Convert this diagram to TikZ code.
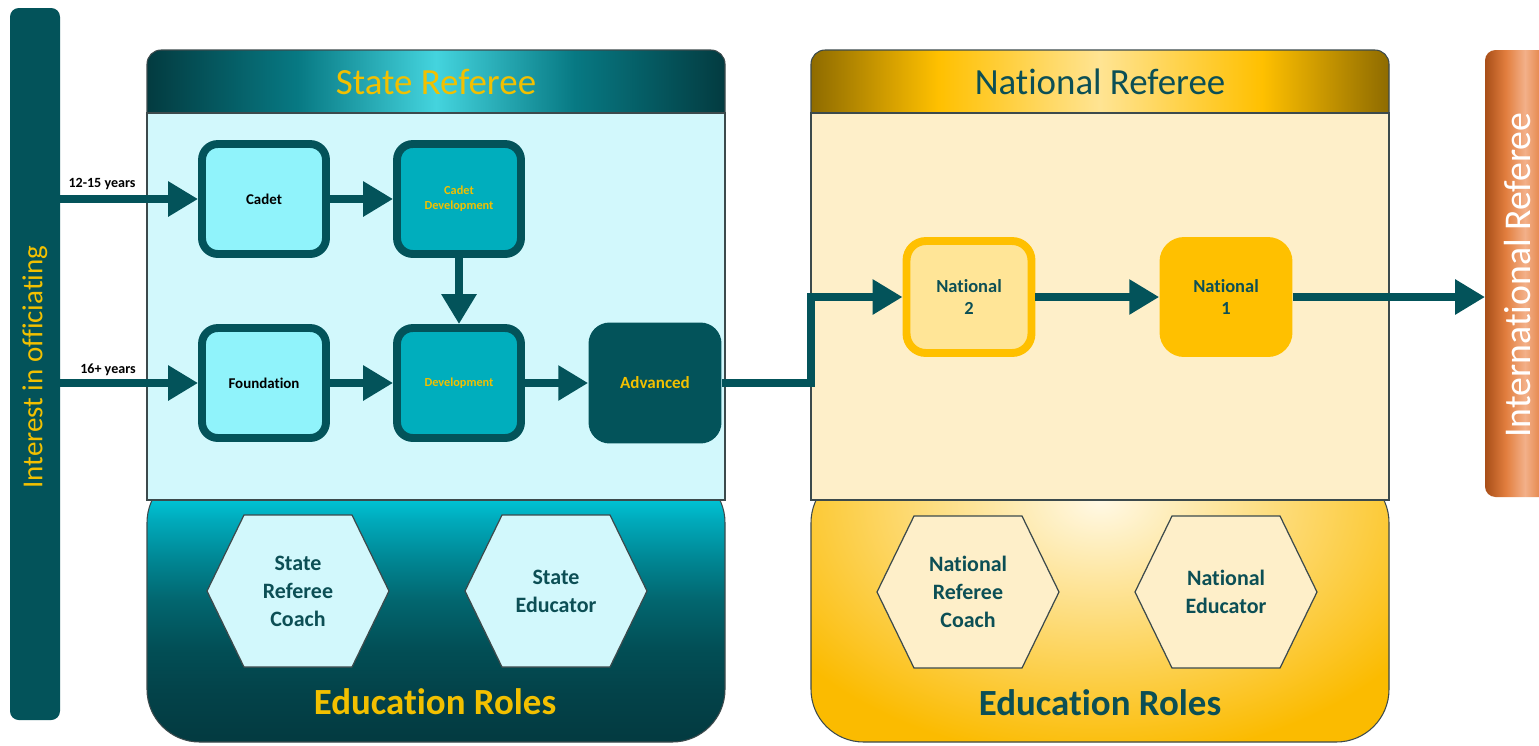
\documentclass[tikz,border=0pt]{standalone}
\usepackage{fontspec}
\setmainfont{Carlito}[Ligatures={NoCommon,NoRare},Contextuals=NoAlternate]
\usetikzlibrary{arrows.meta,calc}
\definecolor{teal1}{HTML}{03535A}
\definecolor{goldtxt}{HTML}{F2C000}
\definecolor{cyanbox}{HTML}{90F3FB}
\definecolor{tealmid}{HTML}{00AEBD}
\definecolor{statebody}{HTML}{D2F8FC}
\definecolor{natbody}{HTML}{FEEFC9}
\definecolor{natgold}{HTML}{FFC000}
\definecolor{nattwo}{HTML}{FFE597}
\definecolor{textteal}{HTML}{0C4F55}
\definecolor{outl}{HTML}{3C4A4C}
\definecolor{shA}{HTML}{033B40}
\definecolor{shB}{HTML}{077983}
\definecolor{shC}{HTML}{44D4DE}
\definecolor{ngA}{HTML}{8E6B00}
\definecolor{ngB}{HTML}{FFC000}
\definecolor{ngC}{HTML}{FFE493}
\definecolor{inA}{HTML}{A84E18}
\definecolor{inB}{HTML}{E27E3E}
\definecolor{inC}{HTML}{F3B089}
\definecolor{sbA}{HTML}{033A40}
\definecolor{sbB}{HTML}{03434A}
\definecolor{sbC}{HTML}{024E55}
\definecolor{sbD}{HTML}{02666F}
\definecolor{sbE}{HTML}{008693}
\definecolor{sbF}{HTML}{00AABB}
\definecolor{sbG}{HTML}{00C2D4}
\definecolor{sbH}{HTML}{00C8DA}
\definecolor{nbEdge}{HTML}{FBBB00}
\pgfdeclarehorizontalshading{statehead}{100bp}{color(0bp)=(shA); color(25bp)=(shA); color(38bp)=(shB); color(50bp)=(shC); color(62bp)=(shB); color(75bp)=(shA); color(100bp)=(shA)}
\pgfdeclarehorizontalshading{nathead}{100bp}{color(0bp)=(ngA); color(25bp)=(ngA); color(36bp)=(ngB); color(50bp)=(ngC); color(64bp)=(ngB); color(75bp)=(ngA); color(100bp)=(ngA)}
\pgfdeclarehorizontalshading{intlbar}{100bp}{color(0bp)=(inA); color(25bp)=(inA); color(38bp)=(inB); color(50bp)=(inC); color(62bp)=(inB); color(75bp)=(inA); color(100bp)=(inA)}
\pgfdeclareverticalshading{statebot}{100bp}{color(0bp)=(sbA); color(25bp)=(sbA); color(34.6bp)=(sbB); color(41.9bp)=(sbC); color(51.1bp)=(sbD); color(58.5bp)=(sbE); color(65.8bp)=(sbF); color(69.5bp)=(sbG); color(75bp)=(sbH); color(100bp)=(sbH)}
\tikzset{
  arr/.style={draw=teal1, line width=5pt, -{Triangle[length=17pt,width=19pt]}},
  lvlbox/.style={rounded corners=9pt, line width=4.5pt, draw=teal1, minimum width=2.48cm, minimum height=2.2cm, align=center, inner sep=0pt},
  lighttxt/.style={font=\bfseries\fontsize{8.5}{10}\selectfont, text=black},
  smallgold/.style={font=\bfseries\fontsize{7}{8.5}\selectfont, text=goldtxt},
  agelbl/.style={font=\bfseries\fontsize{8}{9}\selectfont, text=black},
  hexline/.style={draw=outl, line width=0.7pt},
  hextxt/.style={font=\bfseries\fontsize{12.5}{16}\selectfont, text=textteal, align=center},
  headtxt/.style={font=\fontsize{21}{24}\selectfont},
  roletxt/.style={font=\bfseries\fontsize{21}{24}\selectfont},
  natbox/.style={font=\bfseries\fontsize{10.5}{13}\selectfont, text=textteal, align=center, inner sep=0pt},
  panelline/.style={draw=outl, line width=0.6pt}
}
\newcommand\hexat[2]{%
  \draw[hexline, fill=#2] ($(#1)+(-91,0)$) -- ($(#1)+(-54,-76)$) -- ($(#1)+(54,-76)$) -- ($(#1)+(91,0)$) -- ($(#1)+(54,76)$) -- ($(#1)+(-54,76)$) -- cycle;}
\begin{document}
\begin{tikzpicture}[x=0.02cm,y=-0.02cm]
\useasboundingbox (0,0) rectangle (1539,745);
\clip (0,0) rectangle (1539,745);
\fill[white] (0,0) rectangle (1539,745);

% left bar
\fill[teal1, rounded corners=5pt] (10,8) rectangle (60,720);
\node[rotate=90, text=goldtxt, font=\fontsize{16.5}{19}\selectfont] (interest) at (35,367) {Interest in officiating};
\coordinate (s1) at (60,199);
\coordinate (s2) at (60,383);

% ---- State panel
\shade[shading=statehead, panelline, rounded corners=8pt] (147,50) rectangle (725,130);
\shade[shading=statebot, panelline, rounded corners=30pt] (147,470) rectangle (725,742);
\fill[statebody, panelline] (147,113) rectangle (725,500);
\draw[outl, line width=1.4pt] (147,500) -- (725,500);
\node[headtxt, text=goldtxt] (sthead) at (436,82) {State Referee};
\node[roletxt, text=goldtxt] (strole) at (435,702) {Education Roles};

% ---- National panel
\shade[shading=nathead, panelline, rounded corners=8pt] (811,50) rectangle (1389,130);
\fill[nbEdge, rounded corners=30pt] (811,470) rectangle (1389,742);
\begin{scope}
  \clip[rounded corners=30pt] (811,470) rectangle (1389,742);
  \shade[inner color=white!90!natgold, outer color=nbEdge] (1100,500) ellipse [x radius=380, y radius=260];
\end{scope}
\draw[panelline, rounded corners=30pt] (811,470) rectangle (1389,742);
\fill[natbody, panelline] (811,113) rectangle (1389,500);
\draw[outl, line width=1.4pt] (811,500) -- (1389,500);
\node[headtxt, text=textteal] (nathd) at (1100,82) {National Referee};
\node[roletxt, text=textteal] (natrole) at (1100,703) {Education Roles};

% ---- International bar
\shade[shading=intlbar, rounded corners=6pt] (1485,50) rectangle (1565,497);
\node[rotate=90, text=white, font=\fontsize{21.5}{24}\selectfont] (intl) at (1518,275) {International Referee};
\coordinate (intlw) at (1485,297);

% ---- state level boxes
\node[lvlbox, fill=cyanbox, lighttxt] (cadet) at (264,199) {Cadet};
\node[lvlbox, fill=tealmid, smallgold] (cdev) at (459,199) {Cadet\\Development};
\node[lvlbox, fill=cyanbox, lighttxt] (found) at (264,383) {Foundation};
\node[lvlbox, fill=tealmid, smallgold] (dev) at (459,383) {Development};
\node[rounded corners=12pt, fill=teal1, minimum width=2.66cm, minimum height=2.42cm, inner sep=0pt, font=\bfseries\fontsize{9.7}{11}\selectfont, text=goldtxt] (adv) at (655,383) {Advanced};

% ---- national level boxes
\node[rounded corners=11pt, line width=4.5pt, draw=natgold, fill=nattwo, minimum width=2.5cm, minimum height=2.24cm, natbox] (nat2) at (969,297) {National\\2};
\node[rounded corners=14pt, fill=natgold, minimum width=2.66cm, minimum height=2.4cm, natbox] (nat1) at (1226,297) {National\\1};

% ---- labels
\node[agelbl] (l1) at (102,184) {12-15 years};
\node[agelbl] (l2) at (108,370) {16+ years};

% ---- arrows
\coordinate (bend) at (811,383);
\draw[arr] (s1) -- (cadet.west);
\draw[arr] (s2) -- (found.west);
\draw[arr] (cadet) -- (cdev);
\draw[arr] (cdev) -- (dev);
\draw[arr] (found) -- (dev);
\draw[arr] (dev) -- (adv);
\draw[arr] (adv.east) -- (bend) |- (nat2.west);
\draw[arr] (nat2) -- (nat1);
\draw[arr] (nat1.east) -- (intlw);

% ---- hexagons
\coordinate (h1) at (298,591);
\coordinate (h2) at (556,591);
\coordinate (h3) at (968,592);
\coordinate (h4) at (1226,592);
\hexat{h1}{statebody}
\hexat{h2}{statebody}
\hexat{h3}{natbody}
\hexat{h4}{natbody}
\node[hextxt] (src) at (h1) {State\\Referee\\Coach};
\node[hextxt] (sed) at (h2) {State\\Educator};
\node[hextxt] (nrc) at (h3) {National\\Referee\\Coach};
\node[hextxt] (ned) at (h4) {National\\Educator};
\end{tikzpicture}
\end{document}
